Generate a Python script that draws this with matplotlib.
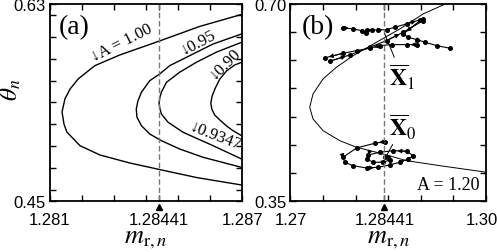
import matplotlib
matplotlib.use('Agg')
from matplotlib import pyplot as plt
from matplotlib.ticker import MultipleLocator
import matplotlib.transforms as mtrans

plt.rcParams['mathtext.fontset'] = 'stix'
plt.rcParams['font.family'] = ['Liberation Sans', 'DejaVu Sans']

M_STAR = 1.28441

# ---- panel (a): curves of constant A ----
a100_m = [1.28698, 1.28567, 1.28443, 1.28319, 1.28241, 1.28189, 1.28164, 1.28148, 1.28139,
          1.28145, 1.28154, 1.28195, 1.28257, 1.28350, 1.28443, 1.28558, 1.28698]
a100_t = [0.6204, 0.6094, 0.5962, 0.5834, 0.5736, 0.5614, 0.5523, 0.5432, 0.5313,
          0.5203, 0.5130, 0.5005, 0.4920, 0.4847, 0.4787, 0.4714, 0.4646]

a095_m = [1.28698, 1.28609, 1.28536, 1.28474, 1.28443, 1.28412, 1.28386, 1.28375, 1.28370,
          1.28372, 1.28386, 1.28412, 1.28448, 1.28505, 1.28578, 1.28698]
a095_t = [0.6026, 0.5934, 0.5827, 0.5736, 0.5660, 0.5599, 0.5493, 0.5413, 0.5340,
          0.5267, 0.5188, 0.5112, 0.5051, 0.4975, 0.4899, 0.4807]

a09347_m = [1.28698, 1.28619, 1.28557, 1.28505, 1.28464, 1.28448, 1.28443, 1.28441,
            1.28443, 1.28448, 1.28469, 1.28516, 1.28609, 1.28698]
a09347_t = [0.5950, 0.5859, 0.5767, 0.5676, 0.5584, 0.5493, 0.5441, 0.5395,
            0.5349, 0.5295, 0.5219, 0.5127, 0.5005, 0.4883]

a090_m = [1.28698, 1.28676, 1.28651, 1.28630, 1.28616, 1.28606, 1.28602, 1.28605,
          1.28614, 1.28630, 1.28651, 1.28671, 1.28698]
a090_t = [0.5767, 0.5742, 0.5688, 0.5614, 0.5532, 0.5459, 0.5395, 0.5340,
          0.5285, 0.5240, 0.5185, 0.5142, 0.5096]

# ---- panel (b): A = 1.20 curve and two orbits ----
b_curve_m = [1.29449, 1.29038, 1.28680, 1.28322, 1.27962, 1.27706, 1.27500, 1.27346, 1.27295,
             1.27346, 1.27500, 1.27757, 1.28014, 1.28423, 1.28783, 1.29295, 1.30014]
b_curve_t = [0.7036, 0.6822, 0.6556, 0.6320, 0.6081, 0.5875, 0.5668, 0.5401, 0.5165,
             0.4957, 0.4749, 0.4571, 0.4454, 0.4335, 0.4216, 0.4127, 0.4010]

up1_m = [1.27808, 1.27962, 1.28091, 1.28157, 1.28177, 1.28245, 1.28346, 1.28475, 1.28603, 1.28783, 1.28988]
up1_t = [0.6574, 0.6556, 0.6526, 0.6485, 0.6543, 0.6538, 0.6538, 0.6543, 0.6586, 0.6645, 0.6716]

up2_m = [1.29029, 1.28731, 1.28808, 1.28937, 1.29065, 1.29245, 1.29449]
up2_t = [0.6734, 0.6467, 0.6408, 0.6366, 0.6320, 0.6259, 0.6213]

up3_m = [1.28937, 1.28783, 1.28552, 1.28372, 1.28218, 1.28014, 1.27808, 1.27526]
up3_t = [0.6277, 0.6277, 0.6277, 0.6259, 0.6213, 0.6170, 0.6124, 0.6041]

up4_m = [1.27603, 1.27911, 1.28218, 1.28475, 1.28731, 1.29038]
up4_t = [0.5982, 0.6094, 0.6231, 0.6348, 0.6497, 0.6703]

low_m = [1.28449, 1.28295, 1.28014, 1.27808, 1.27834, 1.27962, 1.28168, 1.28346, 1.28526,
         1.28680, 1.28808, 1.28885, 1.28783, 1.28577, 1.28372, 1.28192, 1.28168, 1.28269,
         1.28423, 1.28526, 1.28500, 1.28449]
low_t = [0.4554, 0.4525, 0.4442, 0.4277, 0.4188, 0.4127, 0.4086, 0.4099, 0.4140,
         0.4188, 0.4246, 0.4305, 0.4383, 0.4394, 0.4365, 0.4317, 0.4246, 0.4188,
         0.4188, 0.4229, 0.4277, 0.4287]

SERIF = ['Liberation Serif', 'DejaVu Serif']


def style(ax, xlim, ylim, xmin, ymin, xlab, ylab):
    ax.set_xlim(*xlim)
    ax.set_ylim(*ylim)
    ax.set_xticks([xlim[0], M_STAR, xlim[1]])
    ax.set_xticklabels(xlab)
    ax.set_yticks(list(ylim))
    ax.set_yticklabels(ylab)
    ax.xaxis.set_minor_locator(MultipleLocator(xmin))
    ax.yaxis.set_minor_locator(MultipleLocator(ymin))
    ax.tick_params(which='both', direction='in', length=4, width=1,
                   top=True, right=True, labelsize=12, pad=3)
    ax.tick_params(axis='x', which='both', pad=8)
    for s in ax.spines.values():
        s.set_linewidth(1.3)
    ax.axvline(M_STAR, color='#777777', lw=1, ls=(0, (4, 2)))
    tr = mtrans.blended_transform_factory(ax.transData, ax.transAxes)
    ax.plot([M_STAR], [-0.03], marker='^', ms=4, color='k', transform=tr, clip_on=False)
    ax.set_xlabel(r'$m_{\mathrm{r},n}$', fontsize=19, labelpad=-1)


fig = plt.figure(figsize=(4.97, 2.53), dpi=100)
axa = fig.add_axes([0.0996, 0.2016, 0.388, 0.779])
axb = fig.add_axes([0.5845, 0.2016, 0.393, 0.779])

# (a)
for mm, tt in [(a100_m, a100_t), (a095_m, a095_t), (a09347_m, a09347_t), (a090_m, a090_t)]:
    axa.plot(mm, tt, color='k', lw=1.0)
style(axa, (1.281, 1.287), (0.45, 0.63), 0.001, 0.02,
      ['1.281', '1.28441', '1.287'], ['0.45', '0.63'])
axa.set_ylabel(r'$\theta_n$', fontsize=18)
axa.yaxis.set_label_coords(-0.135, 0.57)
axa.text(0.05, 0.885, '(a)', transform=axa.transAxes, fontsize=20, family=SERIF, va='center')
axa.text(1.28325, 0.5950, '\u2193A = 1.00', rotation=27, fontsize=12, family=SERIF,
         ha='center', va='center')
axa.text(1.28562, 0.5960, '\u21930.95', rotation=28, fontsize=12, family=SERIF,
         ha='center', va='center')
axa.text(1.28645, 0.5765, '\u21930.90', rotation=45, fontsize=12, family=SERIF,
         ha='center', va='center')
axa.text(1.28616, 0.5090, '\u21930.9347', rotation=-21, fontsize=12, family=SERIF,
         ha='center', va='center')

# (b)
axb.plot(b_curve_m, b_curve_t, color='k', lw=0.7)
for mm, tt in [(up1_m, up1_t), (up2_m, up2_t), (up3_m, up3_t), (up4_m, up4_t), (low_m, low_t)]:
    axb.plot(mm, tt, color='k', lw=0.8, marker='o', ms=2.6)
    for i in range(0, len(mm) - 1, 3):
        axb.annotate('', xy=(mm[i + 1], tt[i + 1]), xytext=(mm[i], tt[i]),
                     arrowprops=dict(arrowstyle='-|>', color='k', lw=0.8,
                                     mutation_scale=6, shrinkA=0, shrinkB=3))
style(axb, (1.27, 1.30), (0.35, 0.70), 0.005, 0.05,
      ['1.27', '1.28441', '1.30'], ['0.35', '0.70'])
last = axb.get_xticklabels()[-1]
last.set_transform(last.get_transform() + mtrans.ScaledTranslation(-4 / 100, 0, fig.dpi_scale_trans))
axb.text(0.97, 0.04, 'A = 1.20', transform=axb.transAxes, fontsize=13, family=SERIF,
         ha='right', va='bottom')
axb.text(0.06, 0.885, '(b)', transform=axb.transAxes, fontsize=20, family=SERIF, va='center')
axb.annotate(r'$\overline{\mathbf{X}}_1$', xy=(1.28448, 0.6467), xytext=(1.28711, 0.5721),
             fontsize=17, ha='center', va='center',
             arrowprops=dict(arrowstyle='-', color='k', lw=0.7, shrinkA=1, shrinkB=0))
axb.annotate(r'$\overline{\mathbf{X}}_0$', xy=(1.28475, 0.4305), xytext=(1.28725, 0.4833),
             fontsize=17, ha='center', va='center',
             arrowprops=dict(arrowstyle='-', color='k', lw=0.7, shrinkA=1, shrinkB=0))

fig.savefig('out.png', dpi=100)
